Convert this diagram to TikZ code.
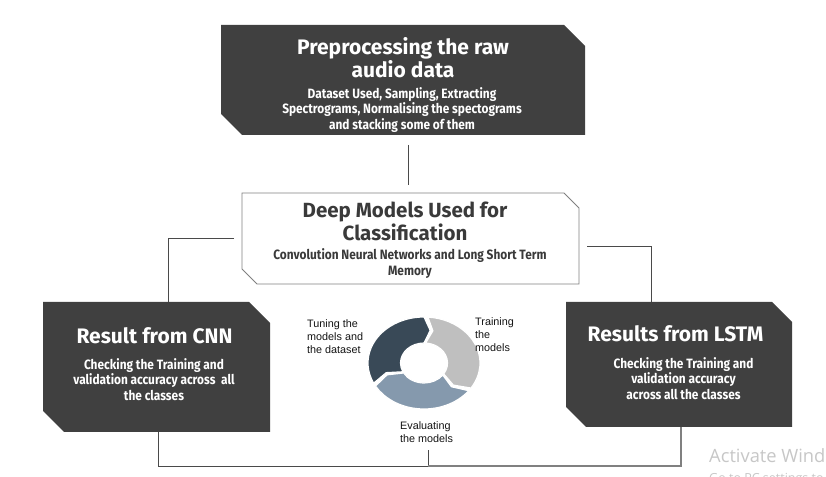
\documentclass[tikz,border=0pt]{standalone}
\usepackage{fontspec}
\setmainfont{Fira Sans}
\newfontfamily\titlefont{Fira Sans}
\newfontfamily\condfont{Fira Sans}[FakeStretch=0.88]
\newfontfamily\armfont{Liberation Sans}
\newfontfamily\wmfont{Open Sans}
\definecolor{boxdark}{HTML}{404040}
\definecolor{boxline}{HTML}{808080}
\definecolor{midtext}{HTML}{3A3A3A}
\definecolor{connc}{HTML}{4A4A4A}
\definecolor{segdark}{HTML}{394957}
\definecolor{seggray}{HTML}{BFBFBF}
\definecolor{segblue}{HTML}{8599AD}
\tikzset{
  boxnode/.style={rectangle, inner sep=0pt, outer sep=0pt},
  darkfill/.style={fill=boxdark},
  lightbox/.style={fill=white, draw=boxline, line width=0.8pt},
  conn/.style={draw=connc, line width=0.8pt},
  conngray/.style={draw=black!50, line width=1.1pt},
  ttl/.style={inner sep=0pt, align=center, font=\titlefont\bfseries\fontsize{21}{18.5}\selectfont},
  sub/.style={inner sep=0pt, align=center, font=\condfont\bfseries\fontsize{13.5}{15.5}\selectfont},
  armlabel/.style={inner sep=0pt, align=left, anchor=north west, text=black!92, font=\armfont\fontsize{10.8}{12.8}\selectfont},
  seg/.style={draw=white, line width=1.2pt}
}
\newcommand\chamferbox[3]{%
  \path[#3] (#1.north west) -- ([xshift=-#2pt]#1.north east) -- ([yshift=-#2pt]#1.north east)
    -- (#1.south east) -- ([xshift=#2pt]#1.south west) -- ([yshift=#2pt]#1.south west) -- cycle;}
\newcommand\ringseg[4]{% start angle, end angle, colour, name
  \path[seg, fill=#3] (#1:56 and 46) arc[start angle=#1, end angle=#2, x radius=56, y radius=46]
    -- ({#2-9}:39.5 and 33) -- (#2:23.5 and 20)
    arc[start angle=#2, end angle=#1, x radius=23.5, y radius=20]
    -- ({#1-9}:39.5 and 33) -- cycle;}
\begin{document}
\begin{tikzpicture}[x=1pt,y=1pt]
\useasboundingbox (0,0) rectangle (826,476);
\fill[white] (0,0) rectangle (826,476);

% box frames (named nodes)
\node[boxnode, minimum width=364pt, minimum height=110pt] (top) at (403,396) {};
\node[boxnode, minimum width=337pt, minimum height=91pt] (mid) at (410.5,237.5) {};
\node[boxnode, minimum width=227pt, minimum height=130pt] (cnn) at (156.5,109) {};
\node[boxnode, minimum width=226pt, minimum height=125pt] (lstm) at (679,111.5) {};
\coordinate (ev) at (428,26);
\coordinate (join) at (428,10);

% connectors
\draw[conn, shorten <=10pt, shorten >=8pt] ([xshift=5pt]top.south) -- ([xshift=-2.5pt]mid.north);
\draw[conn] ([xshift=-8pt,yshift=0pt]mid.west) -| ([xshift=11.5pt]cnn.north);
\draw[conn] ([xshift=8pt,yshift=-7.5pt]mid.east) -| ([xshift=-28pt]lstm.north);
\draw[conn] ([xshift=1.5pt]cnn.south) |- (join) -- (ev);
\draw[conngray] ([xshift=2pt]lstm.south) |- (join);

% boxes
\chamferbox{top}{21}{darkfill}
\chamferbox{mid}{15}{lightbox}
\chamferbox{cnn}{21}{darkfill}
\chamferbox{lstm}{20}{darkfill}

% texts
\node[ttl, text=white, anchor=north] (toptitle) at (403,438.5) {Preprocessing the raw\\audio data};
\node[sub, text=white, anchor=north] (topsub) at (402,389) {Dataset Used, Sampling, Extracting\\Spectrograms, Normalising the spectograms\\and stacking some of them};
\node[ttl, text=midtext, anchor=north, font=\titlefont\bfseries\fontsize{20.5}{23}\selectfont] (midtitle) at (405,274) {Deep Models Used for\\Classification};
\node[sub, text=midtext, anchor=north, font=\condfont\bfseries\fontsize{13.5}{16}\selectfont] (midsub) at (410,228) {Convolution Neural Networks and Long Short Term\\Memory};
\node[ttl, text=white, anchor=north] (cnntitle) at (154.5,148.5) {Result from CNN};
\node[sub, text=white, anchor=north] (cnnsub) at (154,118) {Checking the Training and\\validation accuracy across\ \ all\\the classes};
\node[ttl, text=white, anchor=north] (lstmtitle) at (675.5,150.5) {Results from LSTM};
\node[sub, text=white, anchor=north] (lstmsub) at (683.5,119) {Checking the Training and\\validation accuracy\\across all the classes};

% cycle
\begin{scope}[shift={(424,113)}]
  \ringseg{206}{90}{segdark}{sdark}
  \ringseg{86}{-33}{seggray}{sgray}
  \ringseg{-37}{-150}{segblue}{sblue}
\end{scope}
\node[armlabel] (tune) at (307,156.5) {Tuning the\\models and\\the dataset};
\node[armlabel] (train) at (475,158.5) {Training\\the\\models};
\node[armlabel] (eval) at (400,54.5) {Evaluating\\the models};

% watermark
\node[anchor=base west, inner sep=0pt, text=black!22, font=\wmfont\fontsize{18.3}{21}\selectfont] (wm1) at (709,14) {Activate Windows};
\node[anchor=base west, inner sep=0pt, text=black!22, font=\wmfont\fontsize{12.5}{14}\selectfont] (wm2) at (709,-6) {Go to PC settings to activate Windows.};
\end{tikzpicture}
\end{document}
